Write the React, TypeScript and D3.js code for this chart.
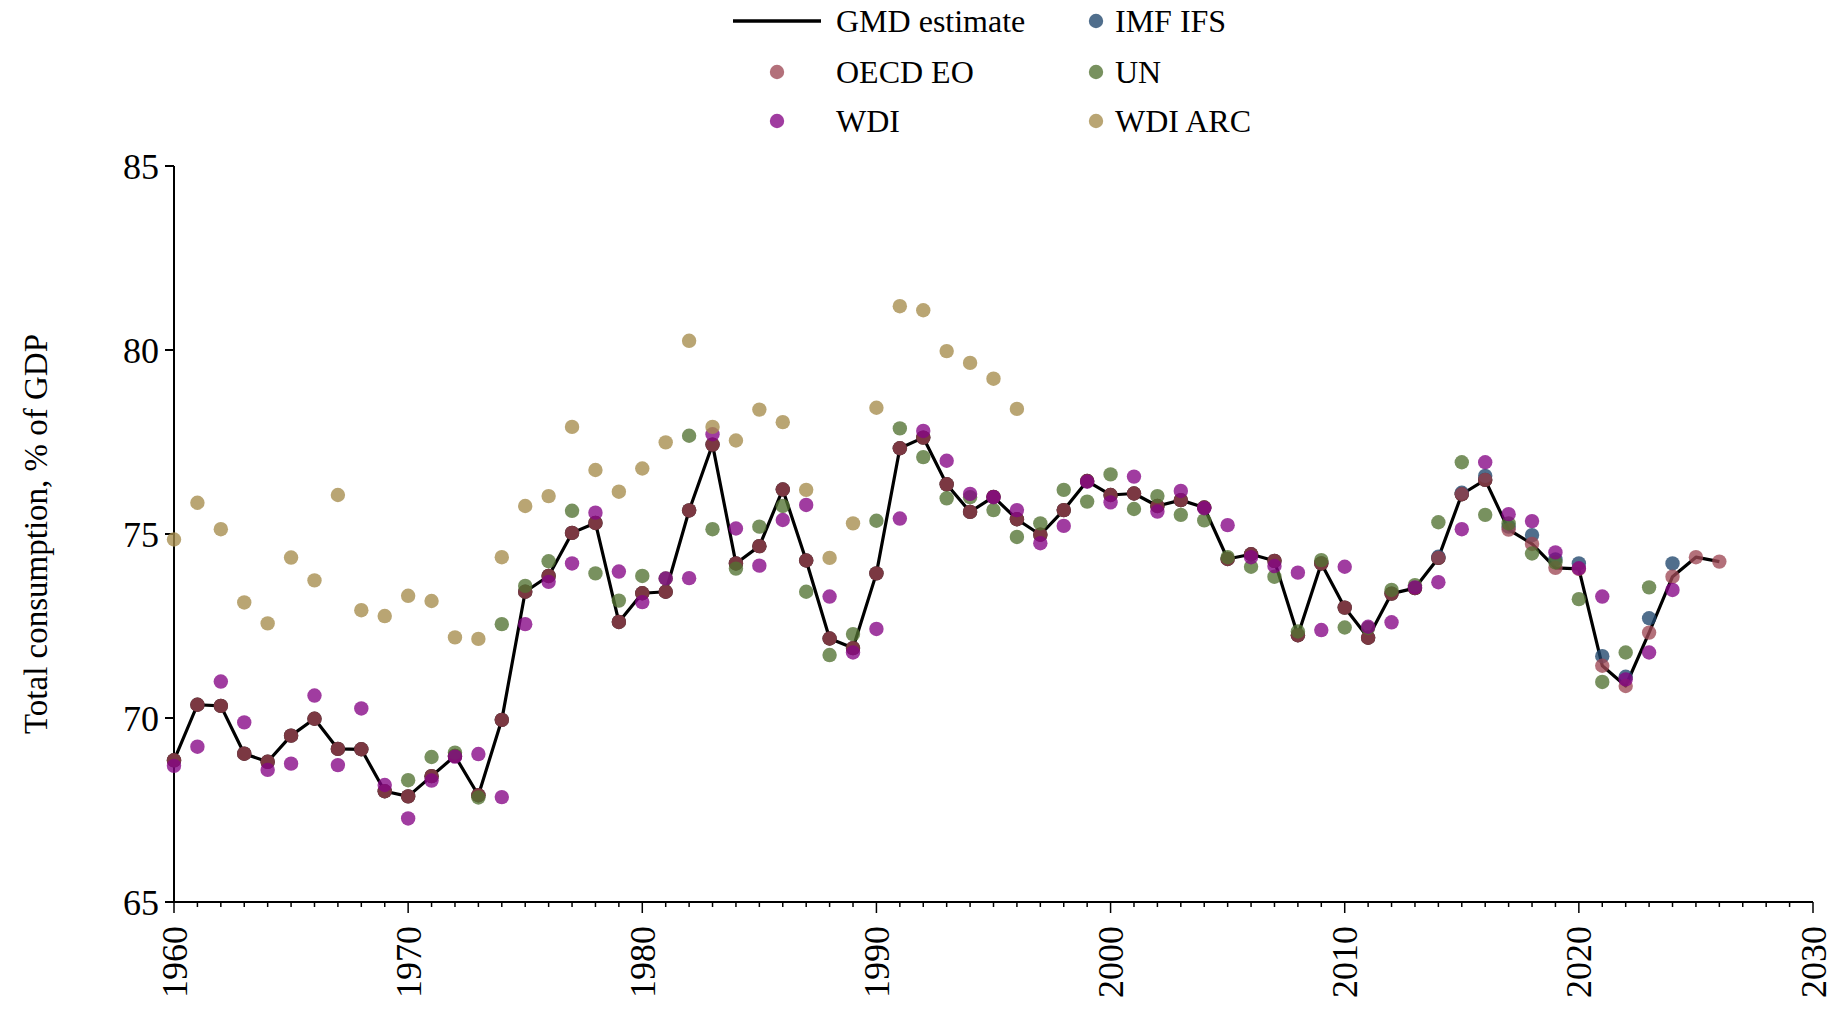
import * as d3 from 'd3';

// ---- data ----
const gmdStart = 1960;
const gmdEstimate = [
  68.85, 70.36, 70.33, 69.03, 68.81, 69.52, 69.98, 69.16, 69.15, 68.01,
  67.87, 68.42, 68.97, 67.9, 69.95, 73.43, 73.86, 75.03, 75.3, 72.61,
  73.39, 73.43, 75.64, 77.43, 74.2, 74.67, 76.21, 74.28, 72.16, 71.9,
  73.93, 77.33, 77.62, 76.35, 75.6, 76.01, 75.4, 74.98, 75.65, 76.44,
  76.06, 76.1, 75.76, 75.92, 75.72, 74.32, 74.45, 74.27, 72.25, 74.2,
  73.0, 72.18, 73.38, 73.53, 74.35, 76.08, 76.47, 75.12, 74.73, 74.08,
  74.05, 71.42, 70.87, 72.32, 73.84, 74.37, 74.25,
];
// GMD markers are shown (under the OECD dots) up to this year
const gmdMarkedUntil = 2016;

const oecdStart = 1960;
const oecdEO = [
  68.85, 70.36, 70.33, 69.03, 68.81, 69.52, 69.98, 69.16, 69.15, 68.01,
  67.87, 68.42, 68.97, 67.9, 69.95, 73.43, 73.86, 75.03, 75.3, 72.61,
  73.39, 73.43, 75.64, 77.43, 74.2, 74.67, 76.21, 74.28, 72.16, 71.9,
  73.93, 77.33, 77.62, 76.35, 75.6, 76.01, 75.4, 74.98, 75.65, 76.44,
  76.06, 76.1, 75.76, 75.92, 75.72, 74.32, 74.45, 74.27, 72.25, 74.2,
  73.0, 72.18, 73.38, 73.53, 74.35, 76.08, 76.47, 75.12, 74.73, 74.08,
  74.05, 71.42, 70.87, 72.32, 73.84, 74.37, 74.25,
];

const imfStart = 2014;
const imfIFS = [74.38, 76.12, 76.58, 75.2, 74.97, 74.31, 74.2, 71.68, 71.12, 72.71, 74.2];

const unStart = 1970;
const unData = [
  68.31, 68.94, 69.06, 67.84, 72.55, 73.59, 74.26, 75.63, 73.93, 73.19,
  73.86, 73.79, 77.67, 75.13, 74.06, 75.2, 75.76, 73.43, 71.71, 72.28,
  75.36, 77.87, 77.09, 75.97, 76.0, 75.65, 74.92, 75.29, 76.2, 75.88,
  76.62, 75.68, 76.03, 75.52, 75.37, 74.37, 74.11, 73.84, 72.35, 74.29,
  72.46, 72.45, 73.48, 73.61, 75.32, 76.95, 75.52, 75.29, 74.47, 74.23,
  73.23, 70.98, 71.78, 73.55,
];

const wdiStart = 1960;
const wdi = [
  68.7, 69.22, 70.99, 69.88, 68.59, 68.76, 70.61, 68.72, 70.26, 68.18,
  67.27, 68.3, 68.95, 69.02, 67.85, 72.55, 73.7, 74.2, 75.58, 73.98,
  73.15, 73.79, 73.8, 77.71, 75.15, 74.14, 75.38, 75.79, 73.3, 71.78,
  72.42, 75.42, 77.8, 76.99, 76.09, 76.0, 75.65, 74.75, 75.22, 76.42,
  75.86, 76.56, 75.61, 76.17, 75.7, 75.24, 74.37, 74.13, 73.95, 72.39,
  74.11, 72.48, 72.6, 73.55, 73.69, 75.13, 76.95, 75.54, 75.35, 74.5,
  74.07, 73.3, 71.05, 71.78, 73.48,
];

const wdiArcStart = 1960;
const wdiArc = [
  74.85, 75.85, 75.13, 73.14, 72.57, 74.36, 73.74, 76.06, 72.93, 72.77,
  73.32, 73.18, 72.19, 72.15, 74.37, 75.76, 76.03, 77.91, 76.74, 76.15,
  76.78, 77.49, 80.25, 77.91, 77.54, 78.38, 78.04, 76.2, 74.35, 75.29,
  78.43, 81.19, 81.08, 79.97, 79.65, 79.22, 78.4,
];

const yTicks = [65, 70, 75, 80, 85];
const xMajorTicks = [1960, 1970, 1980, 1990, 2000, 2010, 2020, 2030];
const yTitle = 'Total consumption, % of GDP';

type Pt = { year: number; value: number };
const toPts = (start: number, vals: number[]): Pt[] => vals.map((v, i) => ({ year: start + i, value: v }));

const series = [
  { name: 'IMF IFS', color: '#1f456c', pts: toPts(imfStart, imfIFS) },
  { name: 'OECD EO', color: '#9e4855', pts: toPts(oecdStart, oecdEO) },
  { name: 'UN', color: '#527232', pts: toPts(unStart, unData) },
  { name: 'WDI', color: '#850585', pts: toPts(wdiStart, wdi) },
  { name: 'WDI ARC', color: '#a58c4c', pts: toPts(wdiArcStart, wdiArc) },
];
const colorOf = (n: string) => series.find(s => s.name === n)!.color;

const W = 1840;
const H = 1010;
const FONT = '"Liberation Serif", "Times New Roman", serif';
const R = 7.2;
const OP = 0.78;

export default function App() {
  const x = d3.scaleLinear().domain([1960, 2030]).range([174, 1813]);
  const y = d3.scaleLinear().domain([65, 85]).range([902, 166]);

  const gmdPts = toPts(gmdStart, gmdEstimate);
  const line = d3.line<Pt>().x(d => x(d.year)).y(d => y(d.value));
  const yearTicks = d3.range(1960, 2031);

  const legend = [
    { kind: 'line', name: 'GMD estimate', col: 0, row: 0 },
    { kind: 'dot', name: 'IMF IFS', col: 1, row: 0 },
    { kind: 'dot', name: 'OECD EO', col: 0, row: 1 },
    { kind: 'dot', name: 'UN', col: 1, row: 1 },
    { kind: 'dot', name: 'WDI', col: 0, row: 2 },
    { kind: 'dot', name: 'WDI ARC', col: 1, row: 2 },
  ];
  const rowY = [21, 72, 121];

  return (
    <svg width={W} height={H} style={{ position: 'absolute', left: 0, top: 0, background: '#fff' }} fontFamily={FONT}>
      {/* legend */}
      {legend.map(l => {
        const cy = rowY[l.row];
        const mx = l.col === 0 ? 777 : 1096;
        const tx = l.col === 0 ? 836 : 1115;
        return (
          <g key={l.name}>
            {l.kind === 'line'
              ? <line x1={733} x2={821} y1={cy} y2={cy} stroke="#000" strokeWidth={3.5} />
              : <circle cx={mx} cy={cy} r={R} fill={colorOf(l.name)} fillOpacity={OP} />}
            <text x={tx} y={cy} dy="0.34em" fontSize={32} fill="#000">{l.name}</text>
          </g>
        );
      })}

      {/* y axis */}
      <line x1={174} x2={174} y1={y(85)} y2={y(65)} stroke="#000" strokeWidth={2} />
      {yTicks.map(t => (
        <g key={t}>
          <line x1={165} x2={174} y1={y(t)} y2={y(t)} stroke="#000" strokeWidth={2} />
          <text x={159} y={y(t)} dy="0.35em" textAnchor="end" fontSize={36}>{t}</text>
        </g>
      ))}
      <text transform={`translate(47, 534) rotate(-90)`} textAnchor="middle" fontSize={33}>{yTitle}</text>

      {/* x axis */}
      <line x1={x(1960)} x2={x(2030)} y1={902} y2={902} stroke="#000" strokeWidth={2} />
      {yearTicks.map(t => (
        <line key={t} x1={x(t)} x2={x(t)} y1={902} y2={t % 10 === 0 ? 913 : 907} stroke="#000" strokeWidth={1.5} />
      ))}
      {xMajorTicks.map(t => (
        <text key={t} transform={`translate(${x(t)}, 926) rotate(-90)`} dy="0.35em" textAnchor="end" fontSize={36}>{t}</text>
      ))}

      {/* GMD markers under OECD dots */}
      {gmdPts.filter(d => d.year <= gmdMarkedUntil).map(d => (
        <circle key={'g' + d.year} cx={x(d.year)} cy={y(d.value)} r={R} fill="#000" />
      ))}
      <path d={line(gmdPts) || ''} fill="none" stroke="#000" strokeWidth={3.2} strokeLinejoin="round" />

      {series.map(s => (
        <g key={s.name}>
          {s.pts.map(d => (
            <circle key={d.year} cx={x(d.year)} cy={y(d.value)} r={R} fill={s.color} fillOpacity={OP} />
          ))}
        </g>
      ))}
    </svg>
  );
}
